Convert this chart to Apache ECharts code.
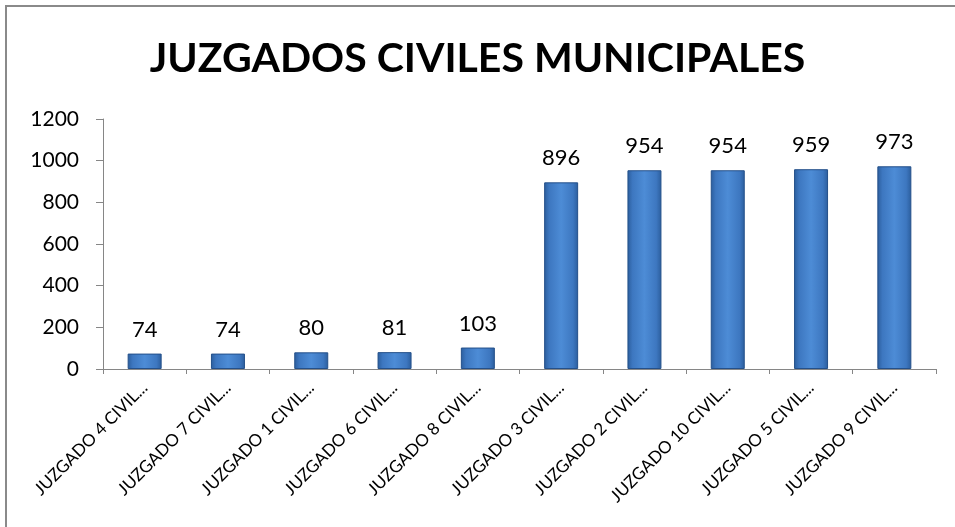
<!DOCTYPE html>
<html>
<head>
<meta charset="utf-8">
<script src="https://cdn.jsdelivr.net/npm/echarts@6/dist/echarts.min.js"></script>
<style>
  html, body { margin: 0; padding: 0; background: #fff; }
  #chart { width: 955px; height: 527px; }
</style>
</head>
<body>
<div id="chart"></div>
<script>
const categories = [
  'JUZGADO 4 CIVIL...', 'JUZGADO 7 CIVIL...', 'JUZGADO 1 CIVIL...',
  'JUZGADO 6 CIVIL...', 'JUZGADO 8 CIVIL...', 'JUZGADO 3 CIVIL...',
  'JUZGADO 2 CIVIL...', 'JUZGADO 10 CIVIL...', 'JUZGADO 5 CIVIL...',
  'JUZGADO 9 CIVIL...'
]
const values = [74, 74, 80, 81, 103, 896, 954, 954, 959, 973]
const yTicks = [0, 200, 400, 600, 800, 1000, 1200]

const font = 'Lato, "Open Sans", sans-serif'

const myChart = echarts.init(document.getElementById('chart'))

const option = {
  animation: false,
  title: {
    text: 'JUZGADOS CIVILES MUNICIPALES',
    left: 'center',
    top: 33,
    textStyle: {
      fontFamily: font,
      fontSize: 41,
      fontWeight: 'bold',
      color: '#000'
    }
  },
  grid: {
    left: 103,
    right: 19,
    top: 119,
    bottom: 158
  },
  xAxis: {
    type: 'category',
    data: categories,
    axisLine: { lineStyle: { color: '#868686' } },
    axisTick: { show: true, length: 5, lineStyle: { color: '#868686' } },
    axisLabel: {
      interval: 0,
      rotate: 45,
      margin: 16,
      fontFamily: font,
      fontSize: 17,
      color: '#000'
    }
  },
  yAxis: {
    type: 'value',
    min: yTicks[0],
    max: yTicks[yTicks.length - 1],
    interval: 200,
    splitLine: { show: false },
    axisLine: { show: true, lineStyle: { color: '#868686' } },
    axisTick: { show: true, length: 7, lineStyle: { color: '#868686' } },
    axisLabel: {
      margin: 24,
      fontFamily: font,
      fontSize: 21,
      color: '#000',
      formatter: v => String(v)
    }
  },
  series: [
    {
      type: 'bar',
      data: values,
      barWidth: 34,
      itemStyle: {
        color: new echarts.graphic.LinearGradient(0, 0, 1, 0, [
          { offset: 0, color: '#2b5d9c' },
          { offset: 0.15, color: '#3d77c0' },
          { offset: 0.5, color: '#4d8cd6' },
          { offset: 0.85, color: '#3d77c0' },
          { offset: 1, color: '#2b5d9c' }
        ]),
        borderColor: '#24508a',
        borderWidth: 1
      },
      label: {
        show: true,
        position: 'top',
        distance: 13,
        fontFamily: font,
        fontSize: 22,
        color: '#000'
      }
    }
  ],
  graphic: [
    {
      type: 'polyline',
      shape: { points: [[6, 527], [6, 6], [955, 6]] },
      style: { stroke: '#8a8a8a', lineWidth: 2, fill: null }
    }
  ]
}

myChart.setOption(option)
</script>
</body>
</html>
